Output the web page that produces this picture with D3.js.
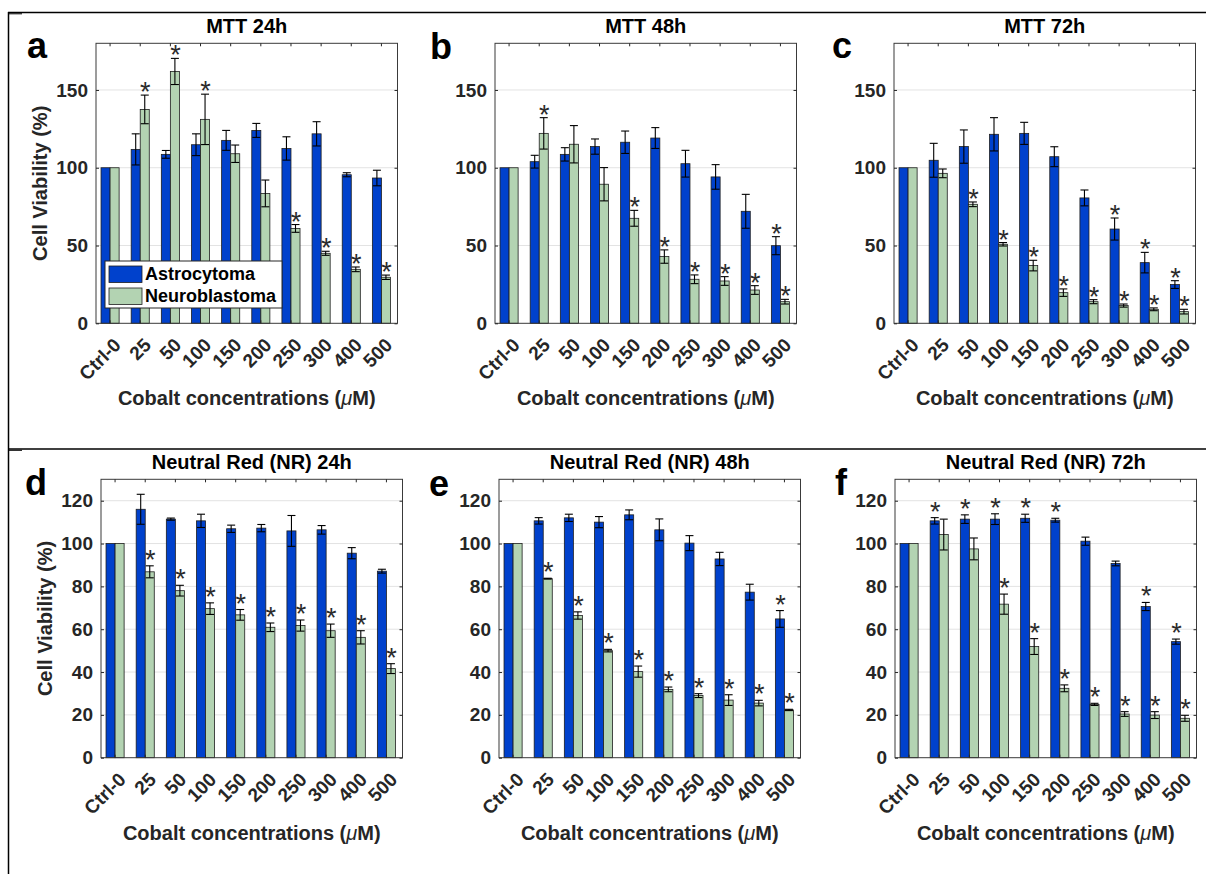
<!DOCTYPE html>
<html>
<head>
<meta charset="utf-8">
<script src="https://cdn.jsdelivr.net/npm/d3@7"></script>
<style>
  body { margin: 0; background: #fff; }
  svg text { font-family: "Liberation Sans", Arial, Helvetica, sans-serif; }
</style>
</head>
<body>
<svg id="fig" width="1206" height="874"></svg>
<script>
// concentrations (uM)
const categories = ["Ctrl-0", "25", "50", "100", "150", "200", "250", "300", "400", "500"];
const seriesNames = ["Astrocytoma", "Neuroblastoma"];

// MTT 24h
const mtt24Astro     = [100, 111.8, 108.6, 114.8, 117.6, 124.0, 112.4, 121.8, 95.5, 93.4];
const mtt24AstroErr  = [0, 10, 2.5, 7, 6.4, 4.5, 7.5, 7.8, 1.3, 5];
const mtt24Neuro     = [100, 137.5, 161.9, 131.1, 109.0, 83.5, 61.0, 45.0, 34.7, 29.6];
const mtt24NeuroErr  = [0, 9.2, 8.4, 16.2, 5.6, 8.6, 2.5, 1.3, 1.5, 1.4];
const mtt24AstroSig  = [0, 0, 0, 0, 0, 0, 0, 0, 0, 0];
const mtt24NeuroSig  = [0, 1, 1, 1, 0, 0, 1, 1, 1, 1];

// MTT 48h
const mtt48Astro     = [100, 103.9, 108.6, 113.6, 116.4, 119.1, 102.6, 94.1, 72.0, 49.9];
const mtt48AstroErr  = [0, 4.1, 4.3, 4.9, 7.2, 6.7, 8.6, 7.9, 10.9, 5.8];
const mtt48Neuro     = [100, 122.1, 115.1, 89.4, 67.5, 42.9, 28.3, 27.2, 21.4, 13.9];
const mtt48NeuroErr  = [0, 10.1, 12, 10.7, 5.1, 4.3, 2.8, 2.8, 2.8, 1.5];
const mtt48AstroSig  = [0, 0, 0, 0, 0, 0, 0, 0, 0, 1];
const mtt48NeuroSig  = [0, 1, 0, 0, 1, 1, 1, 1, 1, 1];

// MTT 72h
const mtt72Astro     = [100, 104.8, 113.6, 121.5, 122.1, 107.1, 80.6, 60.6, 39.0, 24.9];
const mtt72AstroErr  = [0, 10.9, 10.7, 10.7, 7.1, 6.4, 5.1, 7.1, 6.6, 2.5];
const mtt72Neuro     = [100, 96.4, 76.5, 50.8, 37.1, 19.7, 13.9, 11.4, 9.0, 7.5];
const mtt72NeuroErr  = [0, 2.8, 1.5, 1.1, 3.4, 2.4, 1.3, 1, 0.9, 1.5];
const mtt72AstroSig  = [0, 0, 0, 0, 0, 0, 0, 1, 1, 1];
const mtt72NeuroSig  = [0, 0, 1, 1, 1, 1, 1, 1, 1, 1];

// Neutral Red 24h
const nr24Astro      = [100, 116.0, 111.4, 110.6, 106.9, 107.2, 105.9, 106.4, 95.5, 87.1];
const nr24AstroErr   = [0, 7, 0.5, 3.1, 1.7, 1.7, 7.2, 2, 2.6, 0.9];
const nr24Neuro      = [100, 86.8, 78.0, 69.6, 66.7, 60.9, 61.7, 59.3, 56.2, 41.6];
const nr24NeuroErr   = [0, 2.8, 2.5, 2.7, 2.5, 2, 2.6, 3.1, 3.1, 2.3];
const nr24AstroSig   = [0, 0, 0, 0, 0, 0, 0, 0, 0, 0];
const nr24NeuroSig   = [0, 1, 1, 1, 1, 1, 1, 1, 1, 1];

// Neutral Red 48h
const nr48Astro      = [100, 110.6, 112.0, 110.0, 113.4, 106.4, 100.2, 92.8, 77.3, 64.8];
const nr48AstroErr   = [0, 1.5, 1.7, 2.6, 2.3, 5.1, 3.5, 3.1, 3.7, 3.9];
const nr48Neuro      = [100, 83.6, 66.4, 50.0, 40.2, 31.9, 29.0, 26.9, 25.5, 22.3];
const nr48NeuroErr   = [0, 0.2, 1.7, 0.6, 2.6, 1.1, 0.9, 2.5, 1.3, 0.3];
const nr48AstroSig   = [0, 0, 0, 0, 0, 0, 0, 0, 0, 1];
const nr48NeuroSig   = [0, 1, 1, 1, 1, 1, 1, 1, 1, 1];

// Neutral Red 72h
const nr72Astro      = [100, 110.6, 111.4, 111.4, 111.8, 110.9, 101.1, 90.7, 70.6, 54.2];
const nr72AstroErr   = [0, 1.5, 2, 2.5, 1.9, 0.9, 1.9, 1.1, 1.9, 1.2];
const nr72Neuro      = [100, 104.2, 97.5, 71.7, 51.9, 32.4, 24.9, 20.4, 19.9, 18.4];
const nr72NeuroErr   = [0, 7.2, 5.1, 4.7, 3.7, 1.6, 0.5, 1.1, 1.6, 1.4];
const nr72AstroSig   = [0, 1, 1, 1, 1, 1, 0, 0, 1, 1];
const nr72NeuroSig   = [0, 0, 0, 1, 1, 1, 1, 1, 1, 1];

// y ticks
const mttTicks = [0, 50, 100, 150];
const nrTicks = [0, 20, 40, 60, 80, 100, 120];

const panels = [
  { letter: "a", title: "MTT 24h", a: mtt24Astro, ae: mtt24AstroErr, n: mtt24Neuro, ne: mtt24NeuroErr, as: mtt24AstroSig, ns: mtt24NeuroSig, ymax: 180, ticks: mttTicks },
  { letter: "b", title: "MTT 48h", a: mtt48Astro, ae: mtt48AstroErr, n: mtt48Neuro, ne: mtt48NeuroErr, as: mtt48AstroSig, ns: mtt48NeuroSig, ymax: 180, ticks: mttTicks },
  { letter: "c", title: "MTT 72h", a: mtt72Astro, ae: mtt72AstroErr, n: mtt72Neuro, ne: mtt72NeuroErr, as: mtt72AstroSig, ns: mtt72NeuroSig, ymax: 180, ticks: mttTicks },
  { letter: "d", title: "Neutral Red (NR) 24h", a: nr24Astro, ae: nr24AstroErr, n: nr24Neuro, ne: nr24NeuroErr, as: nr24AstroSig, ns: nr24NeuroSig, ymax: 130, ticks: nrTicks },
  { letter: "e", title: "Neutral Red (NR) 48h", a: nr48Astro, ae: nr48AstroErr, n: nr48Neuro, ne: nr48NeuroErr, as: nr48AstroSig, ns: nr48NeuroSig, ymax: 130, ticks: nrTicks },
  { letter: "f", title: "Neutral Red (NR) 72h", a: nr72Astro, ae: nr72AstroErr, n: nr72Neuro, ne: nr72NeuroErr, as: nr72AstroSig, ns: nr72NeuroSig, ymax: 130, ticks: nrTicks }
];

// where each axes sits on the page
const layout = [
  { left: 96,  top: 43.3,  bottom: 323.3, titleY: 33,  letterX: 27,  letterY: 58,  ylabel: true,  legend: true },
  { left: 495, top: 43.3,  bottom: 323.3, titleY: 33,  letterX: 430, letterY: 59 },
  { left: 894, top: 43.3,  bottom: 323.3, titleY: 33,  letterX: 832, letterY: 58 },
  { left: 101, top: 479.3, bottom: 757.7, titleY: 469, letterX: 25,  letterY: 495, ylabel: true },
  { left: 499, top: 479.3, bottom: 757.7, titleY: 469, letterX: 429, letterY: 496 },
  { left: 895, top: 479.3, bottom: 757.7, titleY: 469, letterX: 835, letterY: 495 }
];
const plotW = 301.5;

const blue = "#0041cc", green = "#b3d3b2", ink = "#262626";
const svg = d3.select("#fig");

// outer frame lines
const frame = svg.append("g").attr("stroke", "#000").attr("stroke-width", 1.5);
frame.append("line").attr("x1", 8).attr("x2", 1206).attr("y1", 12.5).attr("y2", 12.5);
frame.append("line").attr("x1", 8.5).attr("x2", 8.5).attr("y1", 12).attr("y2", 874);
frame.append("line").attr("x1", 8).attr("x2", 1206).attr("y1", 449).attr("y2", 449);
frame.append("line").attr("x1", 8).attr("x2", 22).attr("y1", 13.8).attr("y2", 13.8).attr("stroke-width", 1);
frame.append("line").attr("x1", 8).attr("x2", 22).attr("y1", 450.3).attr("y2", 450.3).attr("stroke-width", 1);

panels.forEach((p, i) => {
  const L = layout[i];
  const g = svg.append("g");

  const x = d3.scaleBand().domain(categories).range([L.left, L.left + plotW]).padding(0);
  const y = d3.scaleLinear().domain([0, p.ymax]).range([L.bottom, L.top]);
  const bw = x.bandwidth() * 0.3;
  const cx = c => x(c) + x.bandwidth() / 2 - 1;

  // grid
  g.append("g")
    .selectAll("line")
    .data(p.ticks.filter(t => t > 0))
    .join("line")
    .attr("x1", L.left).attr("x2", L.left + plotW)
    .attr("y1", d => y(d)).attr("y2", d => y(d))
    .attr("stroke", "#e3e3e3").attr("stroke-width", 1);

  const rows = categories.map((c, k) => ({
    c: c,
    vals: [
      { s: 0, v: p.a[k], e: p.ae[k], sig: p.as[k] },
      { s: 1, v: p.n[k], e: p.ne[k], sig: p.ns[k] }
    ]
  }));
  const flat = rows.flatMap(r => r.vals.map(v => Object.assign({ c: r.c }, v)));
  const bx = d => cx(d.c) + (d.s === 0 ? -bw : 0);

  // bars
  g.append("g")
    .selectAll("rect")
    .data(flat)
    .join("rect")
    .attr("x", bx)
    .attr("width", bw)
    .attr("y", d => y(d.v))
    .attr("height", d => y(0) - y(d.v))
    .attr("fill", d => d.s === 0 ? blue : green)
    .attr("stroke", "#1e1e1e")
    .attr("stroke-width", 0.8);

  // error bars
  const eb = g.append("g").attr("stroke", "#000").attr("stroke-width", 1.1);
  flat.filter(d => d.e > 0).forEach(d => {
    const mx = bx(d) + bw / 2;
    eb.append("line").attr("x1", mx).attr("x2", mx).attr("y1", y(d.v - d.e)).attr("y2", y(d.v + d.e));
    [d.v - d.e, d.v + d.e].forEach(v => {
      eb.append("line").attr("x1", mx - 4).attr("x2", mx + 4).attr("y1", y(v)).attr("y2", y(v));
    });
  });

  // stars
  const starOff = i < 3 ? 9 : 12;
  g.append("g")
    .selectAll("text")
    .data(flat.filter(d => d.sig))
    .join("text")
    .attr("x", d => bx(d) + bw / 2 + 0.5)
    .attr("y", d => y(d.v + d.e) - starOff + 15)
    .attr("text-anchor", "middle")
    .attr("font-size", 27)
    .attr("fill", "#2b2b2b")
    .text("*");

  // box
  g.append("rect")
    .attr("x", L.left).attr("y", L.top)
    .attr("width", plotW).attr("height", L.bottom - L.top)
    .attr("fill", "none").attr("stroke", "#3a3a3a").attr("stroke-width", 1);

  // y axis ticks + labels
  const yAxis = g.append("g")
    .attr("transform", `translate(${L.left},0)`)
    .call(d3.axisLeft(y).tickValues(p.ticks).tickSize(-3).tickPadding(8));
  yAxis.select(".domain").remove();
  yAxis.selectAll("line").attr("stroke", ink);
  yAxis.selectAll("text")
    .attr("font-size", 19).attr("font-weight", "bold").attr("fill", ink)
    .attr("font-family", null);
  // right side ticks
  g.append("g")
    .attr("transform", `translate(${L.left + plotW},0)`)
    .call(d3.axisRight(y).tickValues(p.ticks).tickSize(-3).tickFormat(""))
    .call(a => a.select(".domain").remove())
    .selectAll("line").attr("stroke", ink);

  // x ticks (bottom and top, inward)
  const xt = g.append("g").attr("stroke", ink);
  categories.forEach(c => {
    xt.append("line").attr("x1", cx(c)).attr("x2", cx(c)).attr("y1", L.bottom).attr("y2", L.bottom - 3);
    xt.append("line").attr("x1", cx(c)).attr("x2", cx(c)).attr("y1", L.top).attr("y2", L.top + 3);
  });

  // x tick labels, rotated
  g.append("g")
    .selectAll("text")
    .data(categories)
    .join("text")
    .attr("transform", c => `translate(${cx(c) + 12},${L.bottom + 23}) rotate(-45)`)
    .attr("text-anchor", "end")
    .attr("font-size", 19)
    .attr("font-weight", "bold")
    .attr("fill", ink)
    .text(c => c);

  const midX = L.left + plotW / 2;

  // x label
  g.append("text")
    .attr("x", midX).attr("y", L.bottom + 82)
    .attr("text-anchor", "middle")
    .attr("font-size", 20).attr("font-weight", "bold").attr("fill", ink)
    .call(t => {
      t.append("tspan").text("Cobalt concentrations (");
      t.append("tspan").attr("font-style", "italic").attr("font-weight", "normal").text("\u03bc");
      t.append("tspan").text("M)");
    });

  // title
  g.append("text")
    .attr("x", midX).attr("y", L.titleY)
    .attr("text-anchor", "middle")
    .attr("font-size", 20).attr("font-weight", "bold").attr("fill", "#000")
    .text(p.title);

  // panel letter
  g.append("text")
    .attr("x", L.letterX).attr("y", L.letterY)
    .attr("font-size", 36).attr("font-weight", "bold").attr("fill", "#000")
    .text(p.letter);

  if (L.ylabel) {
    g.append("text")
      .attr("transform", `translate(${L.left - 49.5},${(L.top + L.bottom) / 2}) rotate(-90)`)
      .attr("text-anchor", "middle")
      .attr("font-size", 20).attr("font-weight", "bold").attr("fill", ink)
      .text("Cell Viability (%)");
  }

  if (L.legend) {
    const lg = g.append("g");
    lg.append("rect").attr("x", 105).attr("y", 261).attr("width", 177).attr("height", 47)
      .attr("fill", "#fff").attr("stroke", ink).attr("stroke-width", 1);
    seriesNames.forEach((name, k) => {
      lg.append("rect").attr("x", 109).attr("y", 266 + k * 22).attr("width", 33).attr("height", 16.5)
        .attr("fill", k === 0 ? blue : green).attr("stroke", "#1e1e1e").attr("stroke-width", 0.8);
      lg.append("text").attr("x", 145).attr("y", 280 + k * 21.7)
        .attr("font-size", 18).attr("font-weight", "bold").attr("fill", "#000")
        .text(name);
    });
  }
});
</script>
</body>
</html>
